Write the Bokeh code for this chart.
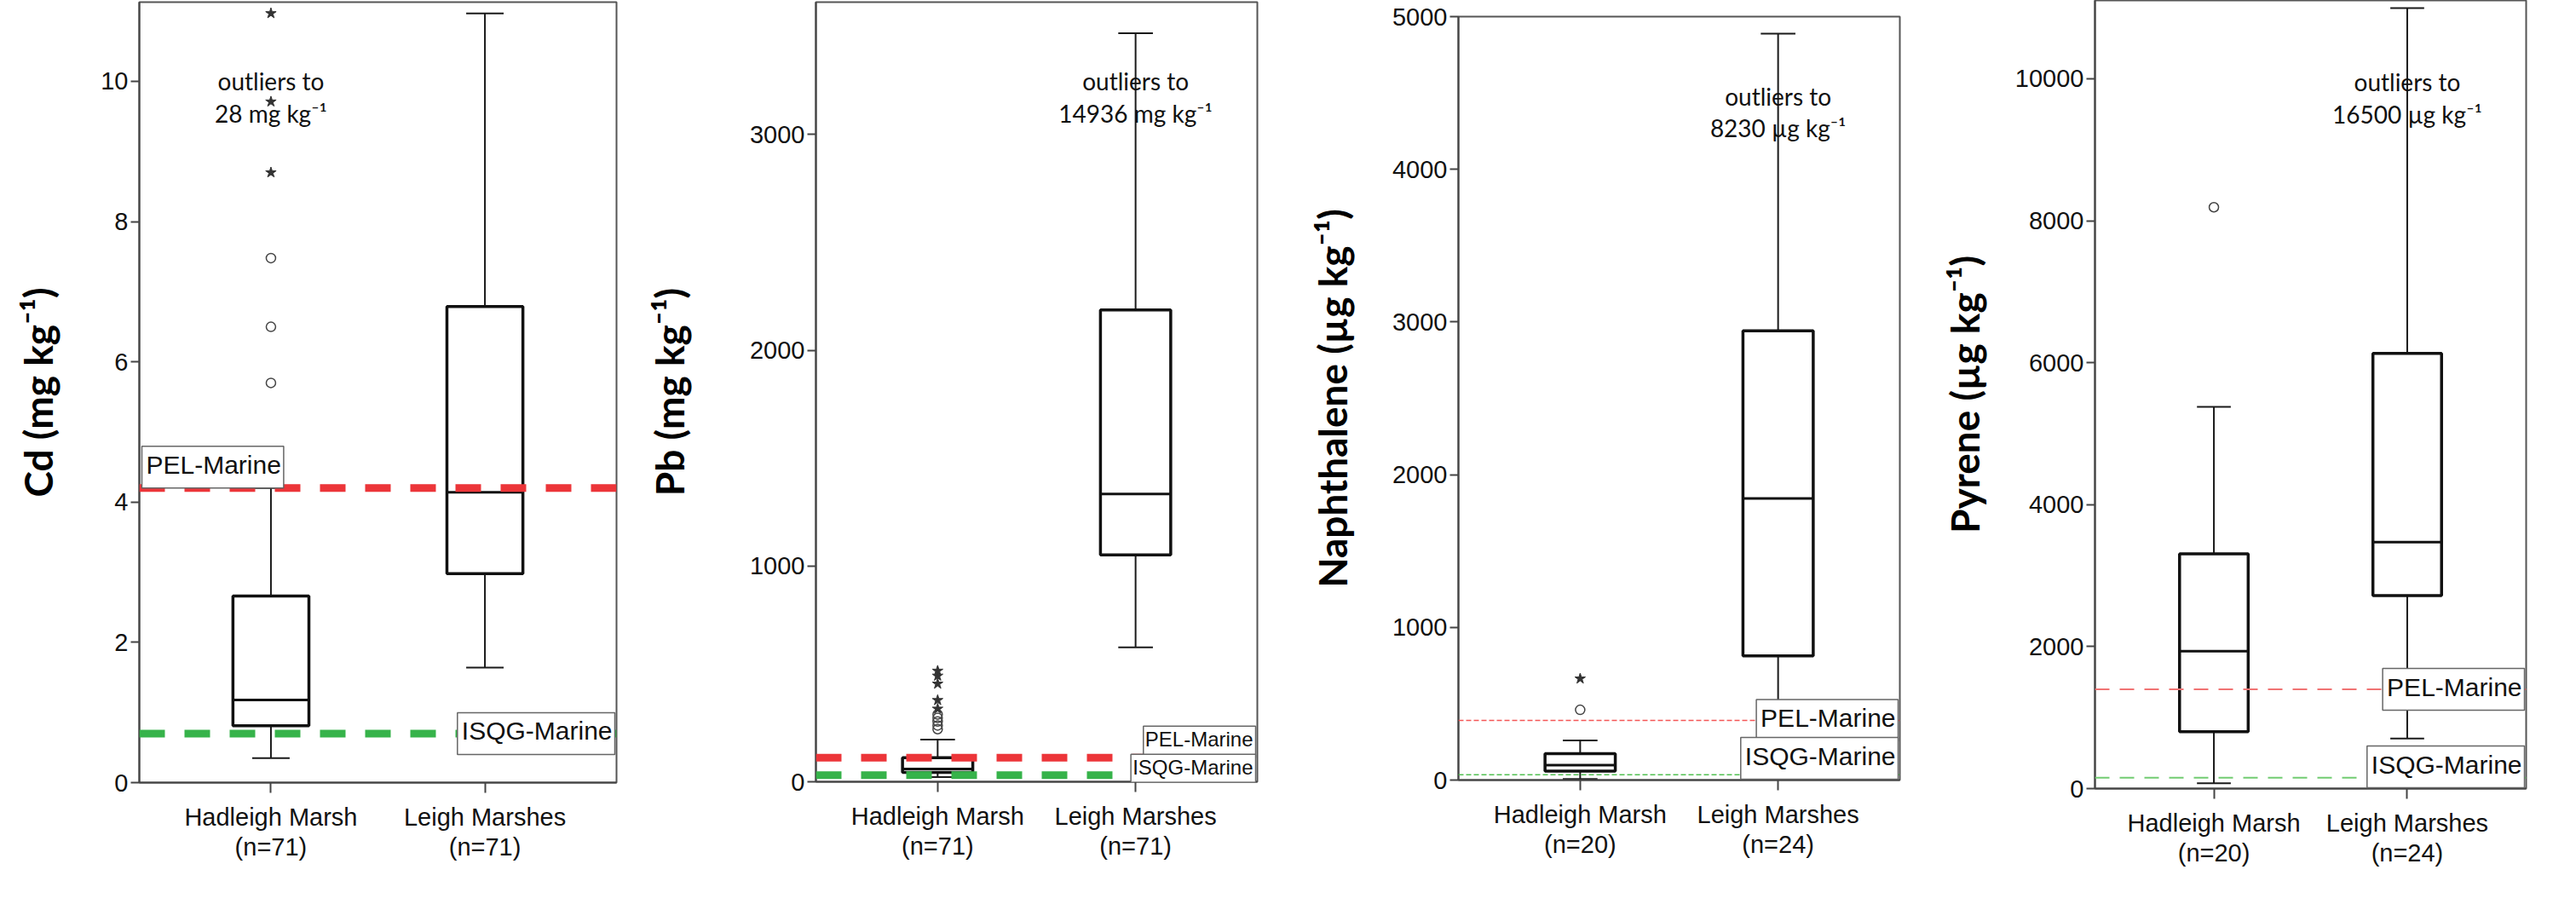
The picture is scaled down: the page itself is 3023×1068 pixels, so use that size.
from bokeh.plotting import figure
from bokeh.layouts import row
from bokeh.models import Range1d, FixedTicker, NumeralTickFormatter, Span, Label
from bokeh.embed import file_html
from bokeh.resources import INLINE

# ---------------- data ----------------
groups = ["Hadleigh Marsh", "Leigh Marshes"]

cd_n = [71, 71]
cd_low = [0.35, 1.64]
cd_q1 = [0.81, 2.98]
cd_med = [1.18, 4.14]
cd_q3 = [2.66, 6.79]
cd_high = [4.2, 10.97]
cd_mild = [[5.70, 6.50, 7.48], []]
cd_extreme = [[8.70, 9.71, 10.97], []]
cd_pel, cd_isqg = 4.2, 0.7
cd_ticks = [0, 2, 4, 6, 8, 10]
cd_ymax = 11.13
cd_note = ["outliers to", "28 mg kg\u207b\u00b9"]
cd_note_y = [10.01, 9.54]

pb_n = [71, 71]
pb_low = [22, 623]
pb_q1 = [43, 1052]
pb_med = [59, 1334]
pb_q3 = [112, 2187]
pb_high = [196, 3470]
pb_mild = [[244, 261, 279, 296, 312], []]
pb_extreme = [[338, 378, 454, 491, 514], []]
pb_pel, pb_isqg = 112, 30.2
pb_ticks = [0, 1000, 2000, 3000]
pb_ymax = 3614
pb_note = ["outliers to", "14936 mg kg\u207b\u00b9"]
pb_note_y = [3250, 3100]

na_n = [20, 24]
na_low = [7, 420]
na_q1 = [58, 814]
na_med = [98, 1845]
na_q3 = [173, 2942]
na_high = [260, 4888]
na_mild = [[460], []]
na_extreme = [[664], []]
na_pel, na_isqg = 391, 34.6
na_ticks = [0, 1000, 2000, 3000, 4000, 5000]
na_ymax = 5000
na_note = ["outliers to", "8230 \u00b5g kg\u207b\u00b9"]
na_note_y = [4478, 4270]

py_n = [20, 24]
py_low = [75, 705]
py_q1 = [800, 2720]
py_med = [1935, 3473]
py_q3 = [3308, 6131]
py_high = [5378, 10996]
py_mild = [[8190], []]
py_extreme = [[], []]
py_pel, py_isqg = 1398, 153
py_ticks = [0, 2000, 4000, 6000, 8000, 10000]
py_ymax = 11104
py_note = ["outliers to", "16500 \u00b5g kg\u207b\u00b9"]
py_note_y = [9958, 9500]

X0, X1 = 0.385, 2.615
BOX_HALF = 0.1775
CAP_HALF = 0.0875


def panel(ylabel, n, low, q1, med, q3, high, mild, extreme, pel, isqg, ticks, ymax, note, note_y,
          note_group, width, borders, standoff, line_style, pel_place, isqg_place, lab_size):
    left, right, top, bottom = borders
    p = figure(width=width, height=1052, x_range=Range1d(X0, X1), y_range=Range1d(0, ymax),
               output_backend="svg", toolbar_location=None,
               min_border_left=left, min_border_right=right, min_border_top=top, min_border_bottom=bottom)
    p.frame_align = False
    p.xgrid.visible = False
    p.ygrid.visible = False
    p.outline_line_color = "#555555"
    p.outline_line_width = 2
    p.background_fill_color = "white"
    p.border_fill_color = "white"

    xs = [i + 1 for i in range(len(groups))]

    # whiskers
    p.segment(x0=xs, y0=low, x1=xs, y1=q1, line_color="#1a1a1a", line_width=2)
    p.segment(x0=xs, y0=q3, x1=xs, y1=high, line_color="#1a1a1a", line_width=2)
    p.segment(x0=[x - CAP_HALF for x in xs], y0=low, x1=[x + CAP_HALF for x in xs], y1=low,
              line_color="#1a1a1a", line_width=2)
    p.segment(x0=[x - CAP_HALF for x in xs], y0=high, x1=[x + CAP_HALF for x in xs], y1=high,
              line_color="#1a1a1a", line_width=2)
    # boxes
    p.quad(left=[x - BOX_HALF for x in xs], right=[x + BOX_HALF for x in xs], bottom=q1, top=q3,
           fill_color="white", line_color="#111111", line_width=3.5)
    p.segment(x0=[x - BOX_HALF for x in xs], y0=med, x1=[x + BOX_HALF for x in xs], y1=med,
              line_color="#111111", line_width=3)
    # outliers
    for x, vals in zip(xs, mild):
        if vals:
            p.scatter(x=[x] * len(vals), y=vals, marker="circle", size=11, fill_color=None,
                      line_color="#444444", line_width=1.5)
    for x, vals in zip(xs, extreme):
        if vals:
            p.scatter(x=[x] * len(vals), y=vals, marker="star", size=13, fill_color="#333333",
                      line_color="#333333", line_width=1)

    # reference lines
    (rc, gc, lw, dash) = line_style
    p.add_layout(Span(location=pel, dimension="width", line_color=rc, line_width=lw, line_dash=dash))
    p.add_layout(Span(location=isqg, dimension="width", line_color=gc, line_width=lw, line_dash=dash))

    def ref_label(txt, place):
        x, y, align, base, xo, yo, pad = place
        return Label(x=x, y=y, text=txt, text_align=align, text_baseline=base, x_offset=xo, y_offset=yo,
                     text_font="Liberation Sans", text_font_size=lab_size, text_color="#111111",
                     background_fill_color="white", border_line_color="#666666", border_line_width=1.5,
                     padding=pad)

    p.add_layout(ref_label("PEL-Marine", pel_place))
    p.add_layout(ref_label("ISQG-Marine", isqg_place))

    # outlier note
    for txt, yy in zip(note, note_y):
        p.add_layout(Label(x=note_group, y=yy, text=txt, text_align="center", text_baseline="alphabetic",
                           text_font="Lato", text_font_size="28px", text_color="#111111"))

    # axes
    p.xaxis.ticker = FixedTicker(ticks=xs)
    p.xaxis.major_label_overrides = {x: f"{g}\n(n={k})" for x, g, k in zip(xs, groups, n)}
    p.yaxis.ticker = FixedTicker(ticks=ticks)
    p.yaxis.formatter = NumeralTickFormatter(format="0")
    for ax in (p.xaxis, p.yaxis):
        ax.axis_line_color = "#444444"
        ax.axis_line_width = 2
        ax.major_tick_line_color = "#444444"
        ax.major_tick_line_width = 2
        ax.major_tick_in = 0
        ax.minor_tick_line_color = None
        ax.major_label_text_font = "Liberation Sans"
        ax.major_label_text_font_size = "29px"
        ax.major_label_text_color = "#111111"
    p.yaxis.major_tick_out = 10
    p.yaxis.major_label_standoff = 3
    p.xaxis.major_tick_out = 12
    p.xaxis.major_label_standoff = 12
    p.xaxis.major_label_text_line_height = 1.1
    p.yaxis.axis_label = ylabel
    p.yaxis.axis_label_text_font = "Lato"
    p.yaxis.axis_label_text_font_style = "bold"
    p.yaxis.axis_label_text_font_size = "46px"
    p.yaxis.axis_label_text_color = "black"
    p.yaxis.axis_label_standoff = standoff
    return p


thick_dash = ("#ec3539", "#36b34a", 9, "30 23")
p1 = panel("Cd (mg kg\u207b\u00b9)", cd_n, cd_low, cd_q1, cd_med, cd_q3, cd_high, cd_mild, cd_extreme,
           cd_pel, cd_isqg, cd_ticks, cd_ymax, cd_note, cd_note_y, 1,
           752, (163, 29, 2, 134), 43, thick_dash,
           (X0, cd_pel, "left", "bottom", 3, 0, (5, 3, 5, 11)),
           (X1, cd_isqg, "right", "middle", -2, 0, (5, 3, 5, 11)), "30px")

p2 = panel("Pb (mg kg\u207b\u00b9)", pb_n, pb_low, pb_q1, pb_med, pb_q3, pb_high, pb_mild, pb_extreme,
           pb_pel, pb_isqg, pb_ticks, pb_ymax, pb_note, pb_note_y, 2,
           770, (205, 47, 2, 135), 64, thick_dash,
           (X1, pb_pel, "right", "bottom", -2, 0, (2, 3, 2, 8)),
           (X1, pb_pel, "right", "top", -2, 4, (2, 3, 2, 8)), "24px")

thin_dash = ("#f45656", "#52c052", 1.6, "6 3")
p3 = panel("Naphthalene (\u00b5g kg\u207b\u00b9)", na_n, na_low, na_q1, na_med, na_q3, na_high, na_mild,
           na_extreme, na_pel, na_isqg, na_ticks, na_ymax, na_note, na_note_y, 2,
           750, (189, 43, 19, 137), 40, thin_dash,
           (X1, na_pel, "right", "middle", -2, 0, (5, 3, 5, 11)),
           (X1, 0, "right", "bottom", -2, 1, (5, 3, 5, 11)), "30px")

mid_dash = ("#f07373", "#72cc72", 2, "17 12")
p4 = panel("Pyrene (\u00b5g kg\u207b\u00b9)", py_n, py_low, py_q1, py_med, py_q3, py_high, py_mild,
           py_extreme, py_pel, py_isqg, py_ticks, py_ymax, py_note, py_note_y, 2,
           733, (186, 41, 0, 127), 29, mid_dash,
           (X1, py_pel, "right", "middle", -2, 0, (5, 3, 5, 11)),
           (X1, 0, "right", "bottom", -2, 1, (5, 3, 5, 11)), "30px")

layout = row(p1, p2, p3, p4)
open("out.html", "w").write(file_html(layout, INLINE))
